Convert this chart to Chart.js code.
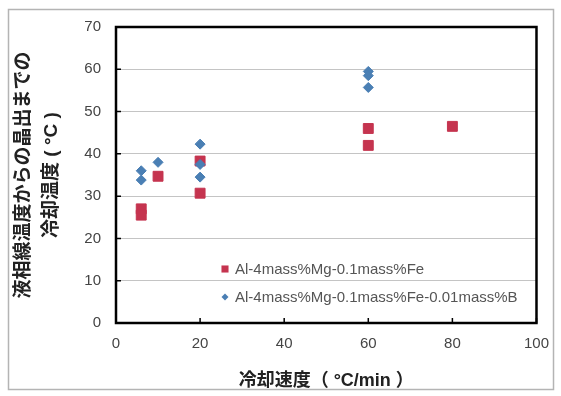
<!DOCTYPE html>
<html>
<head>
<meta charset="utf-8">
<script src="https://cdn.jsdelivr.net/npm/chart.js@4/dist/chart.umd.min.js"></script>
<style>
	html, body { margin: 0; padding: 0; background: #fff; }
	#wrap { width: 561px; height: 396px; }
</style>
</head>
<body>
<div id="wrap"><canvas id="mycanvas" width="561" height="396"></canvas></div>
<script>
// cooling rate (°C/min) and temperature drop values
var feRate = [6, 6, 10, 20, 20, 60, 60, 80];
var feTemp = [27, 25.5, 34.7, 38.3, 30.7, 46, 42, 46.5];
var bRate = [6, 6, 10, 20, 20, 20, 60, 60, 60];
var bTemp = [36, 33.8, 38, 42.3, 37.5, 34.5, 59.5, 58.5, 55.7];
var seriesLabels = ['Al-4mass%Mg-0.1mass%Fe', 'Al-4mass%Mg-0.1mass%Fe-0.01mass%B'];
var xTitle = '冷却速度（ °C/min ）';
var yTitle = ['液相線温度からの晶出までの', '冷却温度 ( °C )'];

var FONT = "'Liberation Sans', Arial, 'Noto Sans CJK JP', sans-serif";

function toPoints(xs, ys) {
	var pts = [];
	for (var i in xs) {
		pts.push({x: xs[i], y: ys[i]});
	}
	return pts;
}

// frame, plot box, inward ticks and the in-plot legend
var decor = {
	id: 'decor',
	beforeDraw: function(chart) {
		var ctx = chart.ctx;
		ctx.save();
		ctx.fillStyle = '#fff';
		ctx.fillRect(0, 0, chart.width, chart.height);
		ctx.strokeStyle = '#b4b4b4';
		ctx.lineWidth = 1.5;
		ctx.strokeRect(8.5, 9.5, 545, 380);
		ctx.restore();
	},
	afterDatasetsDraw: function(chart) {
		var ctx = chart.ctx;
		var a = chart.chartArea;
		var xs = chart.scales.x, ys = chart.scales.y;
		ctx.save();
		ctx.strokeStyle = '#000';
		ctx.lineWidth = 1.5;
		ctx.beginPath();
		xs.ticks.forEach(function(t) {
			var px = xs.getPixelForValue(t.value);
			ctx.moveTo(px, a.bottom);
			ctx.lineTo(px, a.bottom - 5);
		});
		ys.ticks.forEach(function(t) {
			var py = ys.getPixelForValue(t.value);
			ctx.moveTo(a.left, py);
			ctx.lineTo(a.left + 5, py);
		});
		ctx.stroke();
		ctx.lineWidth = 2.5;
		ctx.strokeRect(a.left, a.top, a.right - a.left, a.bottom - a.top);

		var lx = a.left + 109, ly = a.bottom - 54;
		ctx.font = '15px ' + FONT;
		ctx.textBaseline = 'middle';
		chart.data.datasets.forEach(function(ds, i) {
			var y = ly + i * 28;
			ctx.fillStyle = ds.backgroundColor;
			Chart.helpers.drawPoint(ctx, {pointStyle: ds.pointStyle, radius: ds.legendRadius, borderWidth: 0}, lx, y);
			ctx.fillStyle = '#555';
			ctx.fillText(ds.label, lx + 10, y + 1);
		});
		ctx.restore();
	}
};

var chartdata = {
	datasets: [
		{
			label: seriesLabels[0],
			data: toPoints(feRate, feTemp),
			backgroundColor: '#c5344f',
			borderColor: '#c5344f',
			pointStyle: 'rect',
			pointRadius: 7,
			legendRadius: 5,
			order: 2
		},
		{
			label: seriesLabels[1],
			data: toPoints(bRate, bTemp),
			backgroundColor: '#4a7fb4',
			borderColor: '#4a7fb4',
			pointStyle: 'rectRot',
			pointRadius: 5,
			legendRadius: 3.5,
			order: 1
		}
	]
};

var ctx = document.getElementById('mycanvas');

var scatter = new Chart(ctx, {
	type: 'scatter',
	data: chartdata,
	plugins: [decor],
	options: {
		responsive: false,
		animation: false,
		layout: { padding: { left: 10, right: 18, top: 27, bottom: 4 } },
		plugins: {
			legend: { display: false },
			tooltip: { enabled: false }
		},
		scales: {
			x: {
				type: 'linear',
				min: 0,
				max: 100,
				ticks: { stepSize: 20, color: '#444', padding: 12, font: { family: FONT, size: 15 } },
				grid: { display: false, drawTicks: false },
				border: { display: false },
				title: { display: true, text: xTitle, color: '#222', padding: { top: 8, bottom: 0 }, font: { family: FONT, size: 18, weight: 'bold' } },
				afterFit: function(s) { s.height = 69; }
			},
			y: {
				min: 0,
				max: 70,
				ticks: { stepSize: 10, color: '#444', padding: 15, font: { family: FONT, size: 15 } },
				grid: { color: '#c4c4c4', lineWidth: 1, drawTicks: false },
				border: { display: false },
				title: { display: true, text: yTitle, color: '#222', padding: { top: 0, bottom: 4 }, font: { family: FONT, size: 19, weight: 'bold', lineHeight: 1.45 } },
				afterFit: function(s) { s.width = 106; }
			}
		}
	}
});
</script>
</body>
</html>
